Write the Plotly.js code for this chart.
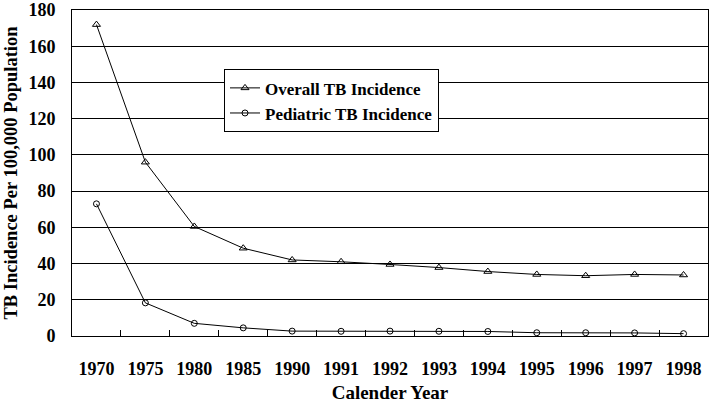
<!DOCTYPE html>
<html><head><meta charset="utf-8">
<script src="https://cdn.plot.ly/plotly-3.0.1.min.js"></script>
<style>body{margin:0;background:#fff}#c{width:713px;height:407px}</style>
</head><body><div id="c"></div>
<script>
const years = ["1970","1975","1980","1985","1990","1991","1992","1993","1994","1995","1996","1997","1998"];
const overall = [172, 96, 60.5, 48.5, 42, 41, 39.5, 37.8, 35.6, 34, 33.3, 34, 33.7];
const pediatric = [73, 18.3, 7, 4.5, 2.7, 2.6, 2.7, 2.6, 2.5, 1.8, 1.8, 1.7, 1.3];
const yTicks = [0,20,40,60,80,100,120,140,160,180];
const F = "Liberation Serif, Times New Roman, serif";
const data = [
  {x: years, y: overall, name: "Overall TB Incidence", type: "scatter", mode: "lines+markers",
   line: {color: "#000", width: 1}, marker: {symbol: "triangle-up-open", size: 7, color: "#000", line: {width: 1}}},
  {x: years, y: pediatric, name: "Pediatric TB Incidence", type: "scatter", mode: "lines+markers",
   line: {color: "#000", width: 1}, marker: {symbol: "circle-open", size: 6, color: "#000", line: {width: 1}}}
];
const layout = {
  width: 713, height: 407,
  margin: {l: 72, r: 5, t: 10, b: 71},
  paper_bgcolor: "#fff", plot_bgcolor: "#fff",
  showlegend: true,
  legend: {x: 0.239, y: 0.818, xanchor: "left", yanchor: "top", bgcolor: "#fff",
    bordercolor: "#000", borderwidth: 1, font: {family: F, size: 17, color: "#000", weight: "bold"},
    tracegroupgap: 0, itemwidth: 30},
  xaxis: {type: "category", showline: true, linecolor: "#000", linewidth: 1, mirror: true,
    showgrid: false, ticks: "inside", tickson: "boundaries", ticklen: 6, tickcolor: "#000",
    ticklabelstandoff: 16,
    tickfont: {family: F, size: 18, color: "#000", weight: "bold"},
    title: {text: "Calender Year", font: {family: F, size: 19, color: "#000", weight: "bold"}, standoff: 8},
    range: [-0.5, 12.5], fixedrange: true},
  yaxis: {range: [0, 180.05], tickvals: yTicks, showline: true, linecolor: "#000", linewidth: 1, mirror: true,
    showgrid: true, gridcolor: "#000", gridwidth: 1, zeroline: false, ticks: "",
    ticklabelstandoff: 12, ticklabeloverflow: "allow",
    tickfont: {family: F, size: 18, color: "#000", weight: "bold"},
    title: {text: "TB Incidence Per 100,000 Population", font: {family: F, size: 18.5, color: "#000", weight: "bold"}, standoff: 5}}
};
Plotly.newPlot("c", data, layout, {staticPlot: true});
</script></body></html>
